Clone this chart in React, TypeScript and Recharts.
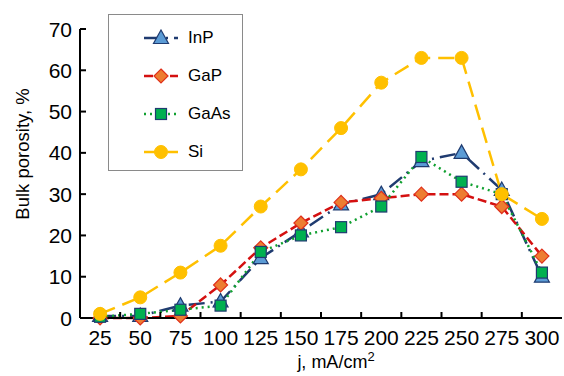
import React from 'react';
import { LineChart, Line, XAxis, YAxis } from 'recharts';

// current density, mA/cm2
const categories = [25, 50, 75, 100, 125, 150, 175, 200, 225, 250, 275, 300];
const inp = [0.5, 0.5, 3, 4, 14.5, 21, 27.5, 30, 38, 40, 31, 10];
const gap = [0, 0, 0.5, 8, 17, 23, 28, 29, 30, 30, 27, 15];
const gaas = [0.3, 1, 2, 3, 16, 20, 22, 27, 39, 33, 30, 11];
const si = [1, 5, 11, 17.5, 27, 36, 46, 57, 63, 63, 30, 24];
const yTicks = [0, 10, 20, 30, 40, 50, 60, 70];

const W = 564, H = 376;
const LEFT = 80, RIGHT = 2, TOP = 29, XH = 58;
const halfBand = (W - LEFT - RIGHT) / categories.length / 2;
const FONT = 'Arial, "Liberation Sans", sans-serif';

type Shape = 'triangle' | 'diamond' | 'square' | 'circle';

const series = [
  { key: 'InP', values: inp, color: '#1f3b70', dash: '16 6 2 6', shape: 'triangle' as Shape, fill: '#5b9bd5', mark: '#1f3b70' },
  { key: 'GaP', values: gap, color: '#d41010', dash: '9 4', shape: 'diamond' as Shape, fill: '#ed7d31', mark: '#e0301a' },
  { key: 'GaAs', values: gaas, color: '#10a030', dash: '2 4', shape: 'square' as Shape, fill: '#00b050', mark: '#1f3b70' },
  { key: 'Si', values: si, color: '#ffc000', dash: '16 8', shape: 'circle' as Shape, fill: '#ffc000', mark: '#ffc000' },
];

const data = categories.map((j, i) => {
  const row: Record<string, number> = { j };
  series.forEach(s => { row[s.key] = s.values[i]; });
  return row;
});

function Marker({ cx, cy, shape, fill, stroke }: { cx: number; cy: number; shape: Shape; fill: string; stroke: string }) {
  if (shape === 'triangle') {
    return <polygon points={`${cx},${cy - 8} ${cx + 7.5},${cy + 5.5} ${cx - 7.5},${cy + 5.5}`} fill={fill} stroke={stroke} strokeWidth={1.2} />;
  }
  if (shape === 'diamond') {
    return <polygon points={`${cx},${cy - 7} ${cx + 7},${cy} ${cx},${cy + 7} ${cx - 7},${cy}`} fill={fill} stroke={stroke} strokeWidth={1.2} />;
  }
  if (shape === 'square') {
    return <rect x={cx - 5.5} y={cy - 5.5} width={11} height={11} fill={fill} stroke={stroke} strokeWidth={1.2} />;
  }
  return <circle cx={cx} cy={cy} r={6.5} fill={fill} stroke={stroke} strokeWidth={1} />;
}

const XTick = (props: any) => {
  const { x, y, payload } = props;
  return (
    <g>
      <text x={x} y={y + 27} textAnchor="middle" fontSize={21} fontFamily={FONT} fill="#000">{payload.value}</text>
      {payload.value !== categories[categories.length - 1] && (
        <line x1={x + halfBand} x2={x + halfBand} y1={y} y2={y - 6} stroke="#000" strokeWidth={2} />
      )}
    </g>
  );
};

const YTick = (props: any) => {
  const { x, y, payload } = props;
  return (
    <g>
      <text x={x} y={y + 7.5} textAnchor="end" fontSize={21} fontFamily={FONT} fill="#000">{payload.value}</text>
      <line x1={x + 8} x2={x + 14} y1={y} y2={y} stroke="#000" strokeWidth={2} />
    </g>
  );
};

function LegendBox() {
  return (
    <div style={{ position: 'absolute', left: 108, top: 14, width: 135, height: 157, border: '1px solid #8a8a8a', background: '#fff', boxSizing: 'border-box', fontFamily: FONT, fontSize: 17 }}>
      {series.map((s, i) => (
        <div key={s.key} style={{ position: 'absolute', left: 34, top: 12 + i * 38, height: 22, display: 'flex', alignItems: 'center' }}>
          <svg width={36} height={18}>
            <line x1={1} x2={35} y1={9} y2={9} stroke={s.color} strokeWidth={2.5} strokeDasharray={s.dash} />
            <Marker cx={18} cy={9} shape={s.shape} fill={s.fill} stroke={s.mark} />
          </svg>
          <span style={{ marginLeft: 9 }}>{s.key}</span>
        </div>
      ))}
    </div>
  );
}

export default function App() {
  return (
    <div style={{ position: 'absolute', left: 0, top: 0, width: W, height: H, background: '#fff' }}>
      <LineChart width={W} height={H} data={data} margin={{ top: TOP, right: RIGHT, left: 0, bottom: 0 }}>
        <XAxis
          dataKey="j"
          type="number"
          domain={[12.5, 312.5]}
          ticks={categories}
          interval={0}
          height={XH}
          tickSize={0}
          tickMargin={0}
          tickLine={false}
          tick={XTick}
          axisLine={{ stroke: '#000', strokeWidth: 2 }}
          label={{
            content: () => (
              <text x={336} y={368} textAnchor="middle" fontSize={18} fontFamily={FONT} fill="#000">
                j, mA/cm<tspan dy={-7} fontSize={13}>2</tspan>
              </text>
            ),
          }}
        />
        <YAxis
          domain={[0, 70]}
          ticks={yTicks}
          interval={0}
          width={LEFT}
          tickSize={0}
          tickMargin={8}
          tickLine={false}
          tick={YTick}
          axisLine={{ stroke: '#000', strokeWidth: 2 }}
          label={{
            content: () => (
              <text x={29} y={154} transform="rotate(-90 29 154)" textAnchor="middle" fontSize={18.5} fontFamily={FONT} fill="#000">
                Bulk porosity, %
              </text>
            ),
          }}
        />
        {series.map(s => (
          <Line
            key={s.key}
            dataKey={s.key}
            stroke={s.color}
            strokeWidth={2.5}
            strokeDasharray={s.dash}
            isAnimationActive={false}
            dot={(p: any) => <Marker key={`${s.key}-${p.index}`} cx={p.cx} cy={p.cy} shape={s.shape} fill={s.fill} stroke={s.mark} />}
            activeDot={false}
          />
        ))}
      </LineChart>
      <LegendBox />
    </div>
  );
}
